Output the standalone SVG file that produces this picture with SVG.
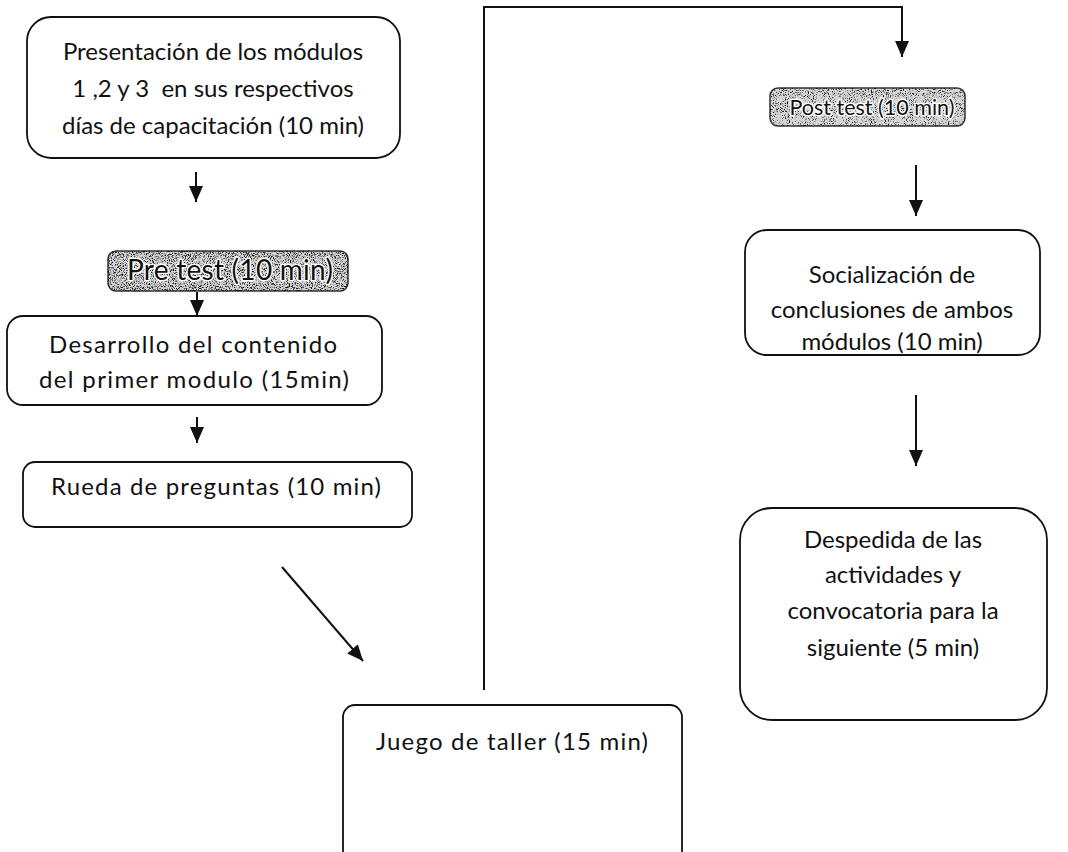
<svg xmlns="http://www.w3.org/2000/svg" width="1068" height="852" viewBox="0 0 1068 852">
<style>
.box{fill:#fff;stroke:#111;stroke-width:1.8}
.shade{fill:#d6d6d6;stroke:#333;stroke-width:1.5}
.t{font-family:Lato,"Open Sans",sans-serif;font-size:24px;fill:#111;text-anchor:middle}
.ts{font-family:Lato,"Open Sans",sans-serif;fill:#111;text-anchor:middle;stroke:#fff;stroke-width:3;paint-order:stroke;stroke-linejoin:round}
.c{fill:none;stroke:#111;stroke-width:2}
</style>
<defs>
<marker id="a" viewBox="0 0 16 14" refX="16" refY="7" markerWidth="16" markerHeight="14" markerUnits="userSpaceOnUse" orient="auto">
<path d="M0,0 L16,7 L0,14 z" fill="#111"/>
</marker>
<filter id="grain" x="0" y="0" width="100%" height="100%">
<feTurbulence type="fractalNoise" baseFrequency="0.95" numOctaves="2" seed="7" result="n"/>
<feColorMatrix in="n" type="matrix" values="0 0 0 0 0  0 0 0 0 0  0 0 0 0 0  4 0 0 0 -1.9" result="d"/>
<feComposite in="d" in2="SourceGraphic" operator="in"/>
</filter>
<filter id="grain2" x="0" y="0" width="100%" height="100%">
<feTurbulence type="fractalNoise" baseFrequency="0.95" numOctaves="2" seed="11" result="n"/>
<feColorMatrix in="n" type="matrix" values="0 0 0 0 0  0 0 0 0 0  0 0 0 0 0  4 0 0 0 -2.1" result="d"/>
<feComposite in="d" in2="SourceGraphic" operator="in"/>
</filter>
</defs>

<g id="connectors">
<line class="c" x1="196" y1="172" x2="196" y2="202" marker-end="url(#a)"/>
<line class="c" x1="197" y1="292" x2="197" y2="316" marker-end="url(#a)"/>
<line class="c" x1="197" y1="417" x2="197" y2="443" marker-end="url(#a)"/>
<line class="c" x1="282" y1="567" x2="363" y2="661" marker-end="url(#a)"/>
<path class="c" d="M484,690 V7 H902 V57" marker-end="url(#a)"/>
<line class="c" x1="916" y1="165" x2="916" y2="216" marker-end="url(#a)"/>
<line class="c" x1="916" y1="395" x2="916" y2="466" marker-end="url(#a)"/>
</g>

<g id="n1">
<rect class="box" x="27" y="17" width="373" height="141" rx="24"/>
<text class="t" x="213" y="60">Presentación de los módulos</text>
<text class="t" x="213" y="97" xml:space="preserve">1 ,2 y 3  en sus respectivos</text>
<text class="t" x="213" y="134">días de capacitación (10 min)</text>
</g>

<g id="n2">
<rect class="shade" x="108" y="251" width="240" height="40" rx="8"/>
<rect x="108" y="251" width="240" height="40" rx="8" fill="#000" filter="url(#grain)"/>
<text class="ts" x="230" y="280" font-size="28" textLength="206" lengthAdjust="spacing">Pre test (10 min)</text>
</g>

<g id="n3">
<rect class="box" x="7" y="316" width="375" height="89" rx="16"/>
<text class="t" x="193" y="353" font-size="28" textLength="288" lengthAdjust="spacing">Desarrollo del contenido</text>
<text class="t" x="194" y="388" font-size="28" textLength="310" lengthAdjust="spacing">del primer modulo (15min)</text>
</g>

<g id="n4">
<rect class="box" x="23" y="462" width="389" height="65" rx="12"/>
<text class="t" x="216" y="495" font-size="28.5" textLength="330" lengthAdjust="spacing">Rueda de preguntas (10 min)</text>
</g>

<g id="n5">
<rect class="box" x="343" y="705" width="339" height="160" rx="12"/>
<text class="t" x="512" y="750" font-size="28.5" textLength="272" lengthAdjust="spacing">Juego de taller (15 min)</text>
</g>

<g id="n6">
<rect class="shade" x="770" y="88" width="195" height="38" rx="8"/>
<rect x="770" y="88" width="195" height="38" rx="8" fill="#000" filter="url(#grain2)"/>
<text class="ts" x="872" y="115" font-size="21.5">Post test (10 min)</text>
</g>

<g id="n7">
<rect class="box" x="745" y="230" width="295" height="125" rx="22"/>
<text class="t" x="892" y="283" font-size="22">Socialización de</text>
<text class="t" x="892" y="318" font-size="22">conclusiones de ambos</text>
<text class="t" x="892" y="350" font-size="22">módulos (10 min)</text>
</g>

<g id="n8">
<rect class="box" x="740" y="508" width="307" height="212" rx="32"/>
<text class="t" x="893" y="548" font-size="23">Despedida de las</text>
<text class="t" x="893" y="583" font-size="23">actividades y</text>
<text class="t" x="893" y="619" font-size="23">convocatoria para la</text>
<text class="t" x="893" y="656" font-size="23">siguiente (5 min)</text>
</g>
</svg>
